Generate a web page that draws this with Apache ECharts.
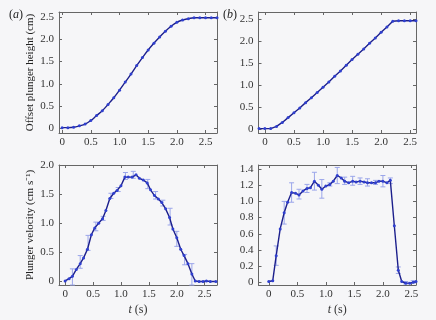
<!DOCTYPE html>
<html>
<head>
<meta charset="utf-8">
<script src="https://cdn.jsdelivr.net/npm/echarts@6/dist/echarts.min.js"></script>
<style>
  html, body { margin: 0; padding: 0; background: #f6f6f8; }
  #chart { width: 436px; height: 320px; }
</style>
</head>
<body>
<div id="chart"></div>
<script>
// (a) offset plunger height, profile a
const timeA = [0, 0.1, 0.2, 0.3, 0.4, 0.5, 0.6, 0.7, 0.8, 0.9, 1.0, 1.1, 1.2, 1.3, 1.4,
  1.5, 1.6, 1.7, 1.8, 1.9, 2.0, 2.1, 2.2, 2.3, 2.4, 2.5, 2.6, 2.7];
const heightA = [0.02, 0.02, 0.03, 0.06, 0.10, 0.18, 0.29, 0.40, 0.54, 0.69, 0.86, 1.04, 1.22, 1.41, 1.59,
  1.76, 1.91, 2.05, 2.18, 2.29, 2.38, 2.43, 2.46, 2.48, 2.48, 2.48, 2.48, 2.48];

// (b) offset plunger height, profile b
const timeB = [-0.1, 0, 0.1, 0.2, 0.3, 0.4, 0.5, 0.6, 0.7, 0.8, 0.9, 1.0, 1.1, 1.2, 1.3, 1.4,
  1.5, 1.6, 1.7, 1.8, 1.9, 2.0, 2.1, 2.2, 2.3, 2.4, 2.5, 2.6];
const heightB = [0.02, 0.02, 0.02, 0.07, 0.16, 0.27, 0.38, 0.49, 0.61, 0.72, 0.84, 0.96, 1.08, 1.21, 1.33, 1.46,
  1.59, 1.71, 1.83, 1.96, 2.08, 2.21, 2.33, 2.46, 2.47, 2.47, 2.47, 2.47];

// (c) plunger velocity, profile a
const timeC = [0, 0.07, 0.13, 0.2, 0.27, 0.33, 0.4, 0.47, 0.53, 0.6, 0.67, 0.73, 0.8, 0.87, 0.93,
  1.0, 1.07, 1.13, 1.2, 1.27, 1.33, 1.4, 1.47, 1.53, 1.6, 1.67, 1.73, 1.8, 1.87, 1.93,
  2.0, 2.07, 2.13, 2.2, 2.27, 2.33, 2.4, 2.47, 2.53, 2.6, 2.7];
const velC = [0, 0.04, 0.08, 0.2, 0.3, 0.4, 0.55, 0.8, 0.92, 1.0, 1.08, 1.22, 1.43, 1.52, 1.57,
  1.65, 1.8, 1.8, 1.8, 1.84, 1.78, 1.75, 1.7, 1.58, 1.48, 1.42, 1.36, 1.25, 1.1, 0.9,
  0.75, 0.55, 0.44, 0.3, 0.12, 0.0, -0.01, -0.01, 0, -0.01, -0.01];
const errTimeC = [0.13, 0.27, 0.41, 0.55, 0.68, 0.82, 0.95, 1.08, 1.22, 1.48, 1.62, 1.75, 1.88, 2.0, 2.14, 2.27];
const errLowC = [-0.07, 0.22, 0.53, 0.87, 1.05, 1.43, 1.55, 1.76, 1.78, 1.6, 1.42, 1.3, 0.97, 0.6, 0.28, -0.07];
const errHighC = [0.21, 0.44, 0.79, 1.02, 1.12, 1.52, 1.62, 1.88, 1.9, 1.76, 1.55, 1.4, 1.26, 0.86, 0.46, 0.3];

// (d) plunger velocity, profile b
const timeD = [0, 0.07, 0.13, 0.2, 0.27, 0.33, 0.4, 0.47, 0.53, 0.6, 0.67, 0.73, 0.8, 0.87, 0.93,
  1.0, 1.07, 1.13, 1.2, 1.27, 1.33, 1.4, 1.47, 1.53, 1.6, 1.67, 1.73, 1.8, 1.87, 1.93,
  2.0, 2.07, 2.13, 2.2, 2.27, 2.33, 2.4, 2.47, 2.53, 2.58];
const velD = [0.01, 0.02, 0.33, 0.66, 0.86, 0.99, 1.11, 1.10, 1.08, 1.13, 1.16, 1.17, 1.25, 1.20, 1.15,
  1.19, 1.21, 1.25, 1.32, 1.29, 1.25, 1.23, 1.25, 1.24, 1.25, 1.24, 1.23, 1.23, 1.23, 1.25,
  1.25, 1.23, 1.26, 0.7, 0.15, 0.01, -0.01, -0.01, 0.0, 0.01];
const errTimeD = [0.13, 0.27, 0.4, 0.53, 0.67, 0.8, 0.93, 1.07, 1.2, 1.33, 1.47, 1.6, 1.73, 1.87, 2.0, 2.13, 2.27, 2.4, 2.53];
const errLowD = [0.21, 0.72, 0.99, 1.03, 1.11, 1.14, 1.04, 1.19, 1.22, 1.21, 1.20, 1.21, 1.19, 1.21, 1.18, 1.22, 0.11, -0.02, -0.01];
const errHighD = [0.45, 1.0, 1.23, 1.15, 1.21, 1.36, 1.27, 1.23, 1.42, 1.30, 1.31, 1.29, 1.28, 1.26, 1.32, 1.29, 0.19, 0.01, 0.02];

// tick labels
const xTicks = [0, 0.5, 1.0, 1.5, 2.0, 2.5];
const yTicksH = [0, 0.5, 1.0, 1.5, 2.0, 2.5];
const yTicksC = [0, 0.5, 1.0, 1.5, 2.0];
const yTicksD = [0, 0.2, 0.4, 0.6, 0.8, 1.0, 1.2, 1.4];

const FONT = 'Liberation Serif';
const AXIS_COLOR = '#666';
const LINE_COLOR = '#1c1f8c';
const MARK_COLOR = '#2f3fcf';
const ERR_COLOR = '#9ba6ea';

const chart = echarts.init(document.getElementById('chart'));

const fmt = v => (v === 0 ? '0' : v.toFixed(1));
const zip = (xs, ys) => xs.map((x, i) => [x, ys[i]]);

const grids = [
  { left: 59, top: 12, width: 158, height: 121 },
  { left: 258.5, top: 12, width: 157.5, height: 121 },
  { left: 59, top: 165, width: 158, height: 120 },
  { left: 258.5, top: 165, width: 157.5, height: 120 }
];

const xRanges = [[-0.055, 2.7], [-0.11, 2.6], [-0.11, 2.72], [-0.18, 2.58]];
const yRanges = [[-0.1, 2.61], [-0.08, 2.67], [-0.07, 2.01], [-0.033, 1.45]];
const yTickSets = [yTicksH, yTicksH, yTicksC, yTicksD];

const xAxes = [];
const yAxes = [];
grids.forEach((g, i) => {
  const base = {
    type: 'value',
    gridIndex: i,
    min: xRanges[i][0],
    max: xRanges[i][1],
    splitLine: { show: false },
    axisLine: { onZero: false, lineStyle: { color: AXIS_COLOR, width: 1 } },
    axisTick: { inside: true, length: 3, customValues: xTicks, lineStyle: { color: AXIS_COLOR } }
  };
  xAxes.push(Object.assign({}, base, {
    position: 'bottom',
    axisLabel: { customValues: xTicks, formatter: fmt, fontFamily: FONT, fontSize: 11, color: '#333', margin: 4 },
    name: i >= 2 ? '{it|t} (s)' : '',
    nameLocation: 'middle',
    nameGap: 19,
    nameTextStyle: { fontFamily: FONT, fontSize: 12, color: '#333', rich: { it: { fontStyle: 'italic', fontFamily: FONT, fontSize: 12, color: '#333' } } }
  }));
  xAxes.push(Object.assign({}, base, { position: 'top', axisLabel: { show: false } }));

  const ybase = {
    type: 'value',
    gridIndex: i,
    min: yRanges[i][0],
    max: yRanges[i][1],
    splitLine: { show: false },
    axisLine: { onZero: false, lineStyle: { color: AXIS_COLOR, width: 1 } },
    axisTick: { inside: true, length: 3, customValues: yTickSets[i], lineStyle: { color: AXIS_COLOR } }
  };
  let yName = '';
  if (i === 0) yName = 'Offset plunger height (cm)';
  if (i === 2) yName = 'Plunger velocity (cm s\u207B\u00B9)';
  yAxes.push(Object.assign({}, ybase, {
    position: 'left',
    axisLabel: { customValues: yTickSets[i], formatter: fmt, fontFamily: FONT, fontSize: 11, color: '#333', margin: 5 },
    name: yName,
    nameLocation: 'middle',
    nameGap: 23,
    nameTextStyle: { fontFamily: FONT, fontSize: 11, color: '#222' }
  }));
  yAxes.push(Object.assign({}, ybase, { position: 'right', axisLabel: { show: false } }));
});

function lineSeries(idx, data, smooth) {
  return {
    type: 'line',
    xAxisIndex: idx * 2,
    yAxisIndex: idx * 2,
    data: data,
    smooth: smooth,
    symbol: 'circle',
    symbolSize: 3,
    itemStyle: { color: MARK_COLOR },
    lineStyle: { color: LINE_COLOR, width: 1.4 },
    animation: false,
    z: 3
  };
}

function errorSeries(idx, ts, lo, hi) {
  return {
    type: 'custom',
    xAxisIndex: idx * 2,
    yAxisIndex: idx * 2,
    data: ts.map((t, i) => [t, lo[i], hi[i]]),
    renderItem: function (params, api) {
      const p1 = api.coord([api.value(0), api.value(1)]);
      const p2 = api.coord([api.value(0), api.value(2)]);
      const w = 2.5;
      const style = { stroke: ERR_COLOR, lineWidth: 1 };
      return {
        type: 'group',
        children: [
          { type: 'line', shape: { x1: p1[0], y1: p1[1], x2: p2[0], y2: p2[1] }, style: style },
          { type: 'line', shape: { x1: p1[0] - w, y1: p1[1], x2: p1[0] + w, y2: p1[1] }, style: style },
          { type: 'line', shape: { x1: p2[0] - w, y1: p2[1], x2: p2[0] + w, y2: p2[1] }, style: style }
        ]
      };
    },
    animation: false,
    z: 2
  };
}

const option = {
  backgroundColor: '#f6f6f8',
  animation: false,
  grid: grids,
  xAxis: xAxes,
  yAxis: yAxes,
  graphic: [
    { type: 'text', left: 9, top: 9, style: { text: '({i|a})', font: '12px ' + FONT, fill: '#222', rich: { i: { fontStyle: 'italic', fontFamily: FONT, fontSize: 12, fill: '#222' } } } },
    { type: 'text', left: 223, top: 9, style: { text: '({i|b})', font: '12px ' + FONT, fill: '#222', rich: { i: { fontStyle: 'italic', fontFamily: FONT, fontSize: 12, fill: '#222' } } } }
  ],
  series: [
    lineSeries(0, zip(timeA, heightA), true),
    lineSeries(1, zip(timeB, heightB), false),
    errorSeries(2, errTimeC, errLowC, errHighC),
    lineSeries(2, zip(timeC, velC), false),
    errorSeries(3, errTimeD, errLowD, errHighD),
    lineSeries(3, zip(timeD, velD), false)
  ]
};

chart.setOption(option);
</script>
</body>
</html>
